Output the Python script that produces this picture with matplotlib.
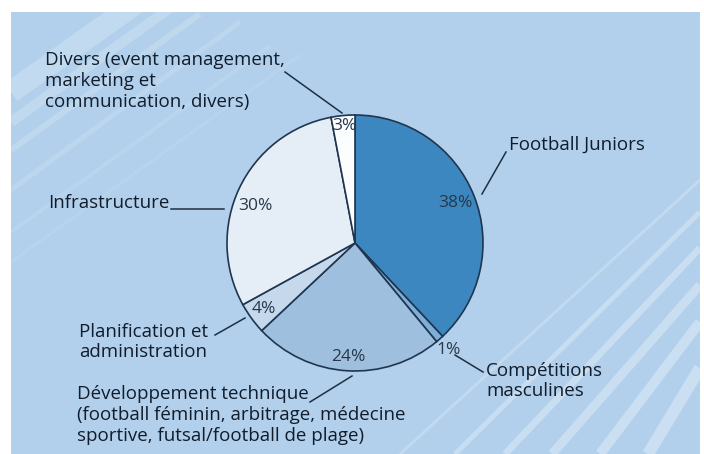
import numpy as np
import matplotlib
matplotlib.use("Agg")
import matplotlib.pyplot as plt
from matplotlib.patches import Rectangle

# ---------------- data ----------------
categories = ["Football Juniors", "Compétitions masculines", "Développement technique",
              "Planification et administration", "Infrastructure", "Divers"]
shares = [38, 1, 24, 4, 30, 3]
label_texts = [
    "Football Juniors",
    "Compétitions\nmasculines",
    "Développement technique\n(football féminin, arbitrage, médecine\nsportive, futsal/football de plage)",
    "Planification et\nadministration",
    "Infrastructure",
    "Divers (event management,\nmarketing et\ncommunication, divers)",
]
colors = ["#3d87c1", "#7eafd8", "#9ebfde", "#c6d9ec", "#e5eef7", "#fbfdff"]

# ---------------- layout (image pixel coords, y down) ----------------
W, H = 704, 454
CX, CY, R = 355, 243, 128
pct_dist = [0.84, 1.11, 0.89, 0.88, 0.83, 0.92]
pct_angle_shift = [0, 0, 0, 0, 5, 0]
label_pos = [(509, 145, "left"), (486, 381, "left"), (77, 415, "left"),
             (79, 342, "left"), (48, 203, "left"), (45, 81, "left")]
leaders = [((506, 152), (482, 194)), ((483, 372), (455, 355)), ((310, 402), (352, 376)),
           ((215, 335), (245, 318)), ((171, 209), (224, 209)), ((285, 72), (342, 113))]

stripes = [  # x0, y0, x1, y1, width px, alpha
    (11, 92, 135, 4, 22, 0.22), (11, 122, 170, 8, 10, 0.20), (11, 150, 200, 14, 6, 0.18),
    (11, 190, 240, 22, 5, 0.14), (11, 232, 270, 46, 4, 0.10), (11, 262, 300, 55, 3, 0.08),
    (400, 454, 700, 180, 3, 0.22), (455, 454, 700, 212, 5, 0.28), (505, 454, 700, 248, 7, 0.30),
    (552, 454, 700, 285, 9, 0.30), (600, 454, 700, 322, 10, 0.32), (648, 454, 700, 368, 12, 0.32),
]

def Y(y):
    return H - y

fig = plt.figure(figsize=(W / 100, H / 100), dpi=100)
fig.patch.set_facecolor("white")
ax = fig.add_axes([0, 0, 1, 1])

panel = Rectangle((11, 0), 689, H - 12, facecolor="#b2d0eb", edgecolor="none", zorder=0)
ax.add_patch(panel)
for x0, y0, x1, y1, w, a in stripes:
    ln, = ax.plot([x0, x1], [Y(y0), Y(y1)], color="white", lw=w * 0.72, alpha=a,
                  solid_capstyle="butt", zorder=1)
    ln.set_clip_path(panel)

wedges, _, autotexts = ax.pie(
    shares, colors=colors, startangle=90, counterclock=False,
    center=(CX, Y(CY)), radius=R, frame=True,
    autopct=lambda p: f"{p:.0f}%", pctdistance=0.85,
    wedgeprops=dict(edgecolor="#1f3550", linewidth=1.2),
    textprops=dict(fontsize=12.5, color="#27384a",
                   family=["Liberation Sans Narrow", "Open Sans", "DejaVu Sans"]),
)
for w, t, d, s in zip(wedges, autotexts, pct_dist, pct_angle_shift):
    th = np.deg2rad((w.theta1 + w.theta2) / 2 + s)
    t.set_position((CX + d * R * np.cos(th), Y(CY) + d * R * np.sin(th)))
    t.set_ha("center")
    t.set_va("center")

for txt, (tx, ty, ha), (p0, p1) in zip(label_texts, label_pos, leaders):
    ax.text(tx, Y(ty), txt, ha=ha, va="center", fontsize=13.5, color="#111d2c",
            family=["Open Sans", "DejaVu Sans"], linespacing=1.2, zorder=5)
    ax.plot([p0[0], p1[0]], [Y(p0[1]), Y(p1[1])], color="#1f2f42", lw=1.1, zorder=5)

ax.set_xlim(0, W)
ax.set_ylim(0, H)
ax.set_aspect("equal")
ax.axis("off")
fig.savefig("out.png", dpi=100)
